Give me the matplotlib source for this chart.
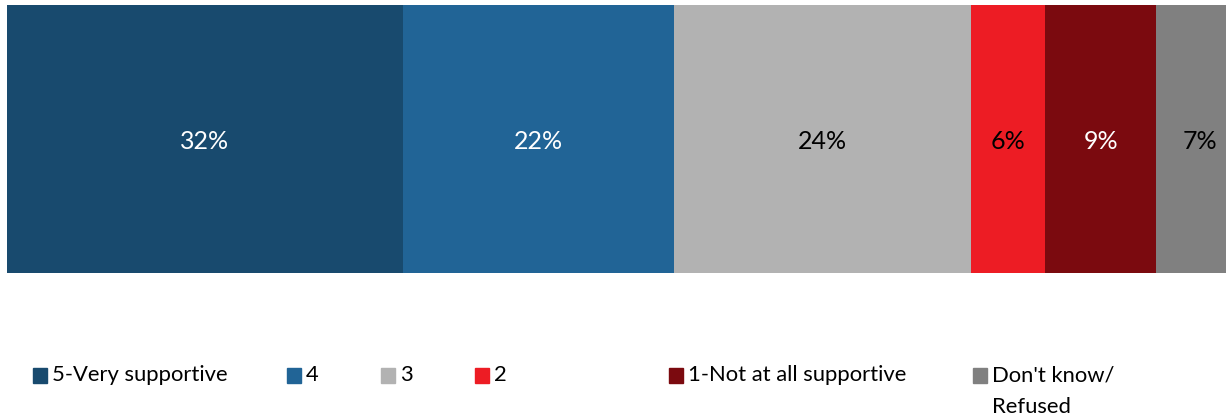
import matplotlib
matplotlib.use("Agg")
import matplotlib.pyplot as plt
from matplotlib.patches import Rectangle

categories = ["5-Very supportive", "4", "3", "2", "1-Not at all supportive", "Don't know/\nRefused"]
values = [32, 22, 24, 6, 9, 7]
labels = ["32%", "22%", "24%", "6%", "9%", "7%"]
colors = ["#184A6E", "#216496", "#B2B2B2", "#ED1C24", "#7B0A0F", "#808080"]
label_colors = ["white", "white", "black", "black", "white", "black"]

plt.rcParams['font.family'] = ['Lato', 'DejaVu Sans']

W, H = 1226, 420
fig = plt.figure(figsize=(W / 100, H / 100), dpi=100)
ax = fig.add_axes([7 / W, 1 - 273 / H, (W - 7) / W, 268 / H])

left = 0
for v, c, lab, lc in zip(values, colors, labels, label_colors):
    ax.barh(0, v, left=left, height=1.0, color=c, edgecolor='none')
    ax.text(left + v / 2, -0.01, lab, ha='center', va='center', color=lc, fontsize=18)
    left += v
ax.set_xlim(0, (W - 7) / 12.36)
ax.set_ylim(-0.5, 0.5)
ax.axis('off')

# legend
sq_x = [33, 287, 381, 475, 669, 973]
for x, c, cat in zip(sq_x, colors, categories):
    fig.patches.append(Rectangle((x / W, 1 - 383 / H), 14 / W, 15 / H,
                                 transform=fig.transFigure, color=c))
    first, *rest = cat.split('\n')
    fig.text((x + 19) / W, 1 - 375 / H, first, ha='left', va='center',
             fontsize=15.8, color='black')
    for i, line in enumerate(rest, start=1):
        fig.text((x + 19) / W, 1 - (375 + 32 * i) / H, line, ha='left', va='center',
                 fontsize=15.8, color='black')

fig.savefig("out.png", dpi=100)
